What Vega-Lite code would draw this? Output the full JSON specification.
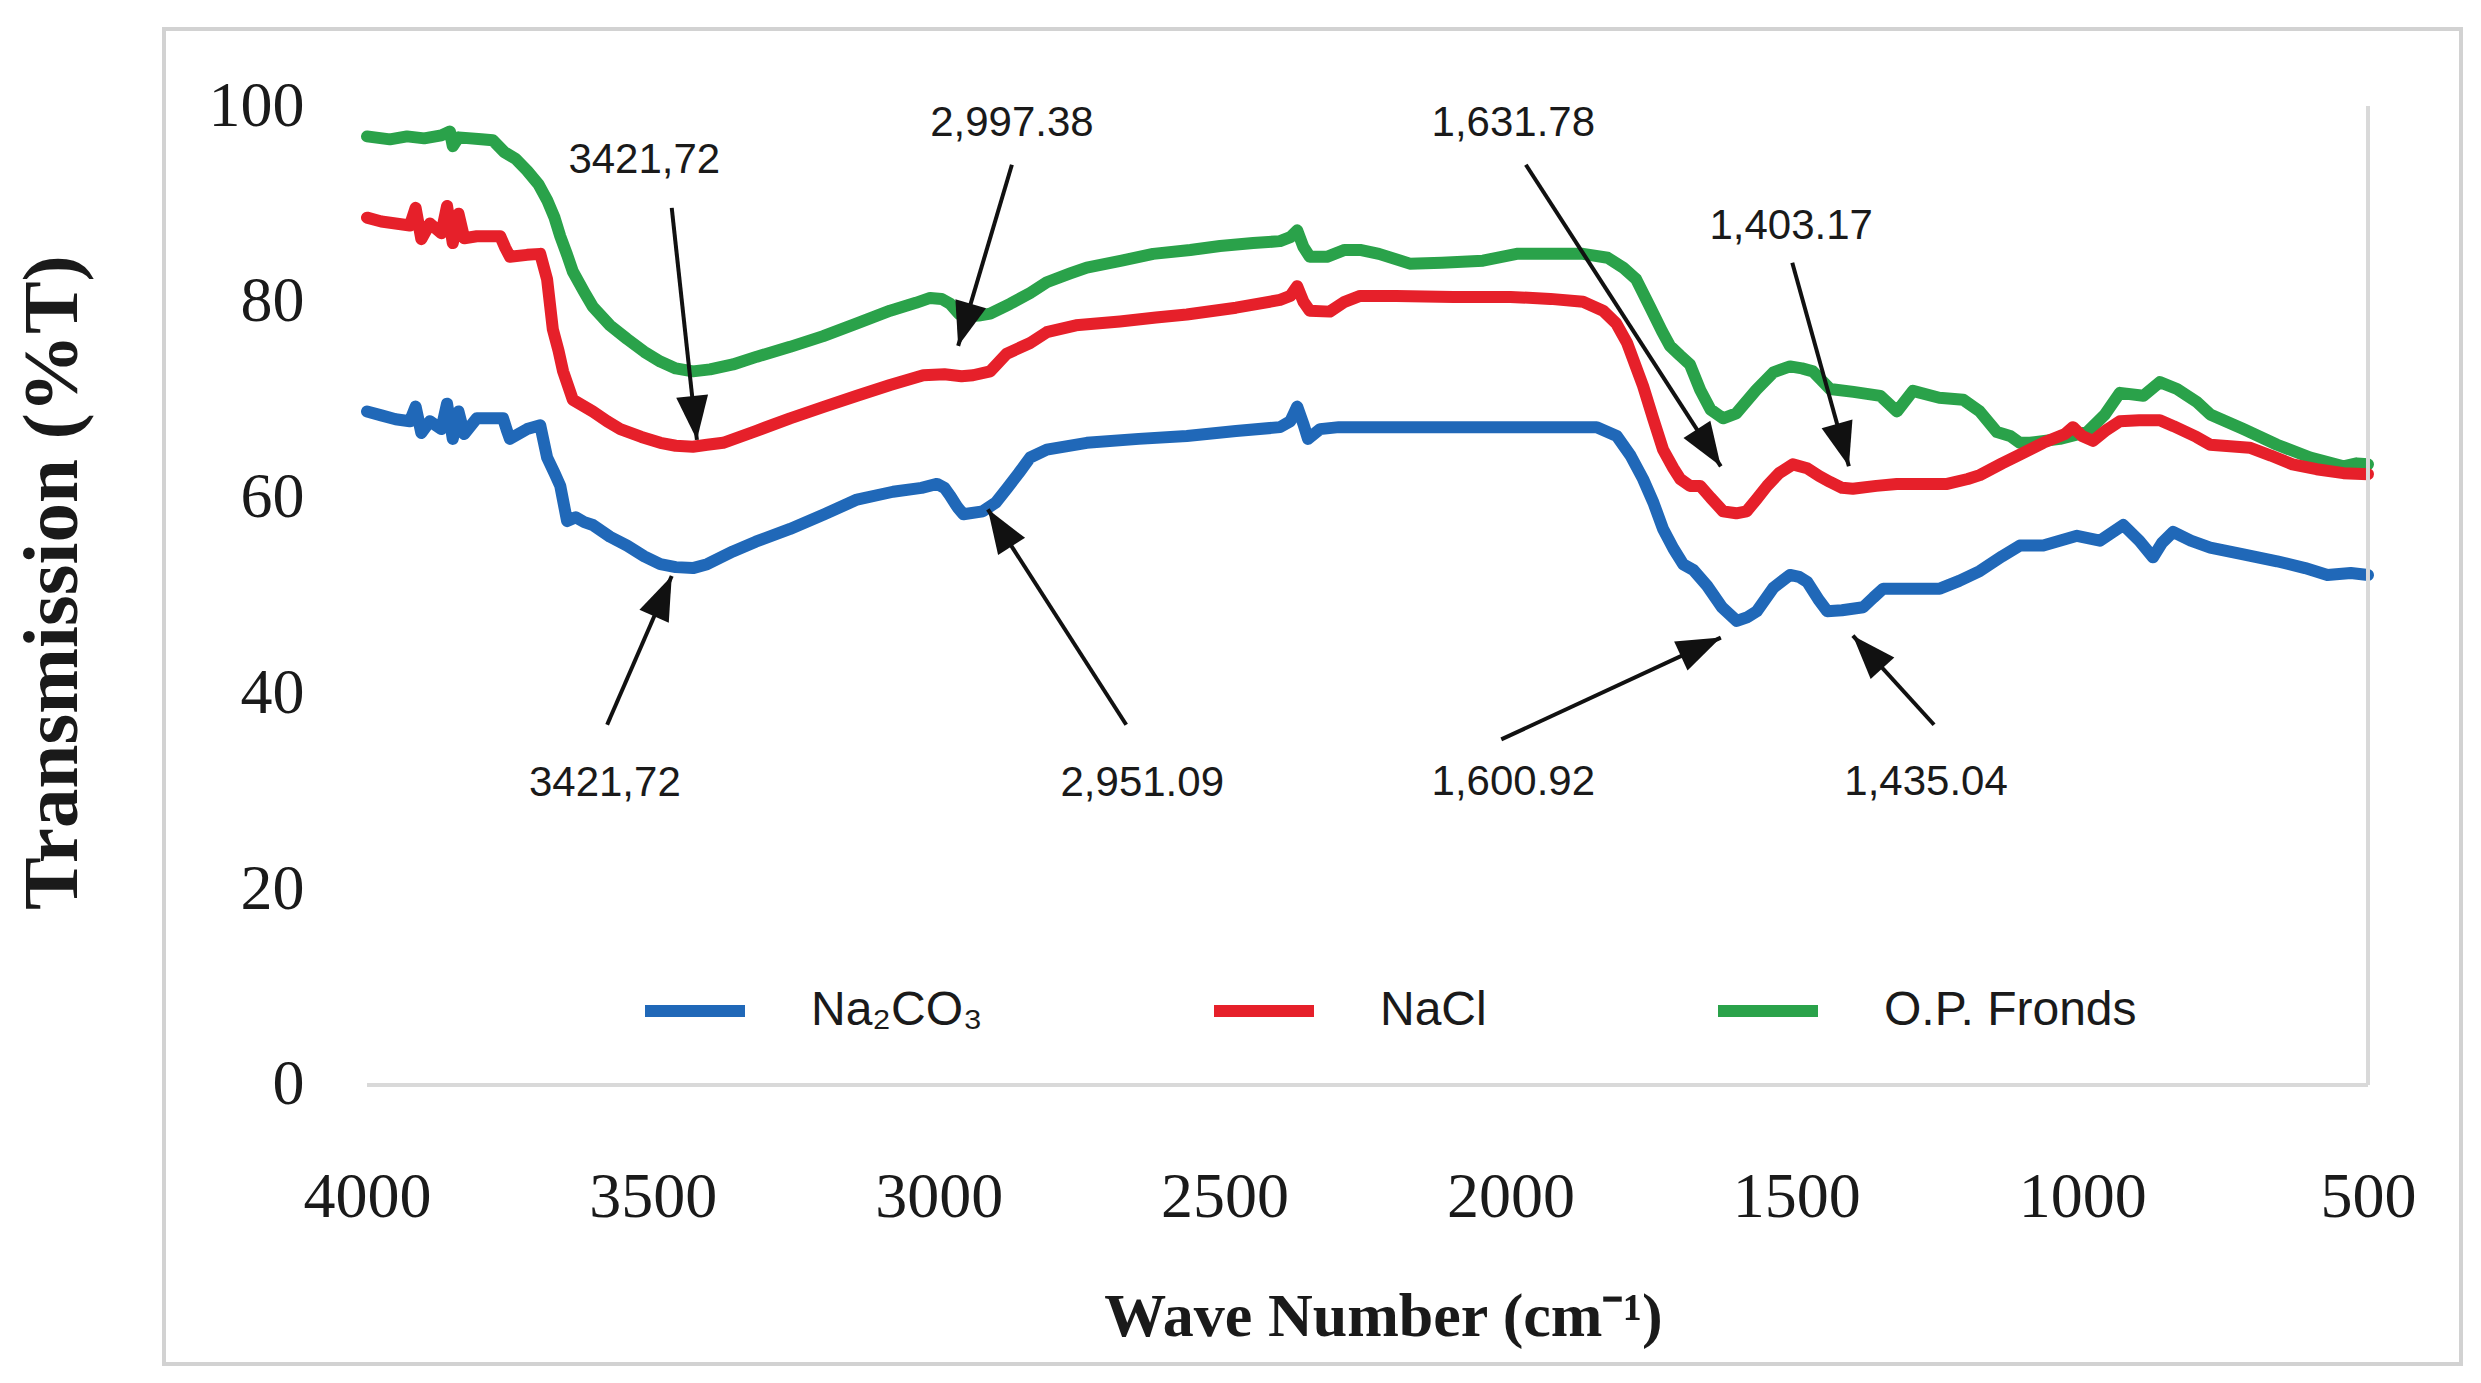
{
 "$schema": "https://vega.github.io/schema/vega-lite/v6.json",
 "width": 2297, "height": 1335,
 "autosize": {"type": "none"},
 "padding": {"left": 164, "top": 29, "right": 20, "bottom": 19},
 "background": "white",
 "config": {"view": {"stroke": "#d2d2d2", "strokeWidth": 4}},
 "datasets": {
  "spectra": [
   {"sample":"O.P. Fronds","wn":4000,"T":96.9},{"sample":"O.P. Fronds","wn":3960,"T":96.6},{"sample":"O.P. Fronds","wn":3930,"T":96.9},{"sample":"O.P. Fronds","wn":3900,"T":96.7},{"sample":"O.P. Fronds","wn":3870,"T":97.0},{"sample":"O.P. Fronds","wn":3855,"T":97.4},{"sample":"O.P. Fronds","wn":3850,"T":95.9},{"sample":"O.P. Fronds","wn":3840,"T":96.8},{"sample":"O.P. Fronds","wn":3800,"T":96.6},{"sample":"O.P. Fronds","wn":3780,"T":96.5},{"sample":"O.P. Fronds","wn":3760,"T":95.3},{"sample":"O.P. Fronds","wn":3740,"T":94.6},{"sample":"O.P. Fronds","wn":3720,"T":93.4},{"sample":"O.P. Fronds","wn":3700,"T":92.0},{"sample":"O.P. Fronds","wn":3685,"T":90.4},{"sample":"O.P. Fronds","wn":3672,"T":88.6},{"sample":"O.P. Fronds","wn":3662,"T":86.7},{"sample":"O.P. Fronds","wn":3650,"T":84.8},{"sample":"O.P. Fronds","wn":3640,"T":83.1},{"sample":"O.P. Fronds","wn":3620,"T":81.0},{"sample":"O.P. Fronds","wn":3605,"T":79.5},{"sample":"O.P. Fronds","wn":3575,"T":77.6},{"sample":"O.P. Fronds","wn":3545,"T":76.2},{"sample":"O.P. Fronds","wn":3515,"T":74.9},{"sample":"O.P. Fronds","wn":3487,"T":73.9},{"sample":"O.P. Fronds","wn":3460,"T":73.2},{"sample":"O.P. Fronds","wn":3430,"T":72.9},{"sample":"O.P. Fronds","wn":3400,"T":73.1},{"sample":"O.P. Fronds","wn":3360,"T":73.6},{"sample":"O.P. Fronds","wn":3318,"T":74.4},{"sample":"O.P. Fronds","wn":3260,"T":75.4},{"sample":"O.P. Fronds","wn":3202,"T":76.5},{"sample":"O.P. Fronds","wn":3143,"T":77.8},{"sample":"O.P. Fronds","wn":3085,"T":79.1},{"sample":"O.P. Fronds","wn":3040,"T":79.9},{"sample":"O.P. Fronds","wn":3015,"T":80.4},{"sample":"O.P. Fronds","wn":2995,"T":80.3},{"sample":"O.P. Fronds","wn":2980,"T":79.8},{"sample":"O.P. Fronds","wn":2965,"T":78.8},{"sample":"O.P. Fronds","wn":2957,"T":78.5},{"sample":"O.P. Fronds","wn":2930,"T":78.6},{"sample":"O.P. Fronds","wn":2910,"T":78.8},{"sample":"O.P. Fronds","wn":2875,"T":79.8},{"sample":"O.P. Fronds","wn":2840,"T":80.9},{"sample":"O.P. Fronds","wn":2811,"T":82.0},{"sample":"O.P. Fronds","wn":2770,"T":82.9},{"sample":"O.P. Fronds","wn":2741,"T":83.5},{"sample":"O.P. Fronds","wn":2680,"T":84.2},{"sample":"O.P. Fronds","wn":2625,"T":84.9},{"sample":"O.P. Fronds","wn":2560,"T":85.3},{"sample":"O.P. Fronds","wn":2508,"T":85.7},{"sample":"O.P. Fronds","wn":2450,"T":86.0},{"sample":"O.P. Fronds","wn":2403,"T":86.2},{"sample":"O.P. Fronds","wn":2385,"T":86.6},{"sample":"O.P. Fronds","wn":2373,"T":87.3},{"sample":"O.P. Fronds","wn":2362,"T":85.6},{"sample":"O.P. Fronds","wn":2351,"T":84.6},{"sample":"O.P. Fronds","wn":2321,"T":84.6},{"sample":"O.P. Fronds","wn":2290,"T":85.3},{"sample":"O.P. Fronds","wn":2263,"T":85.3},{"sample":"O.P. Fronds","wn":2230,"T":84.9},{"sample":"O.P. Fronds","wn":2176,"T":83.9},{"sample":"O.P. Fronds","wn":2120,"T":84.0},{"sample":"O.P. Fronds","wn":2048,"T":84.2},{"sample":"O.P. Fronds","wn":1989,"T":84.9},{"sample":"O.P. Fronds","wn":1930,"T":84.9},{"sample":"O.P. Fronds","wn":1873,"T":84.9},{"sample":"O.P. Fronds","wn":1830,"T":84.5},{"sample":"O.P. Fronds","wn":1803,"T":83.5},{"sample":"O.P. Fronds","wn":1780,"T":82.3},{"sample":"O.P. Fronds","wn":1756,"T":79.5},{"sample":"O.P. Fronds","wn":1735,"T":77.0},{"sample":"O.P. Fronds","wn":1721,"T":75.5},{"sample":"O.P. Fronds","wn":1703,"T":74.5},{"sample":"O.P. Fronds","wn":1686,"T":73.6},{"sample":"O.P. Fronds","wn":1668,"T":71.0},{"sample":"O.P. Fronds","wn":1650,"T":69.0},{"sample":"O.P. Fronds","wn":1628,"T":68.1},{"sample":"O.P. Fronds","wn":1605,"T":68.6},{"sample":"O.P. Fronds","wn":1570,"T":71.0},{"sample":"O.P. Fronds","wn":1540,"T":72.8},{"sample":"O.P. Fronds","wn":1511,"T":73.4},{"sample":"O.P. Fronds","wn":1490,"T":73.2},{"sample":"O.P. Fronds","wn":1471,"T":72.9},{"sample":"O.P. Fronds","wn":1441,"T":71.1},{"sample":"O.P. Fronds","wn":1400,"T":70.8},{"sample":"O.P. Fronds","wn":1353,"T":70.4},{"sample":"O.P. Fronds","wn":1324,"T":68.8},{"sample":"O.P. Fronds","wn":1296,"T":70.9},{"sample":"O.P. Fronds","wn":1250,"T":70.2},{"sample":"O.P. Fronds","wn":1208,"T":70.0},{"sample":"O.P. Fronds","wn":1179,"T":68.8},{"sample":"O.P. Fronds","wn":1149,"T":66.7},{"sample":"O.P. Fronds","wn":1126,"T":66.3},{"sample":"O.P. Fronds","wn":1109,"T":65.6},{"sample":"O.P. Fronds","wn":1091,"T":65.6},{"sample":"O.P. Fronds","wn":1039,"T":66.0},{"sample":"O.P. Fronds","wn":991,"T":66.7},{"sample":"O.P. Fronds","wn":960,"T":68.5},{"sample":"O.P. Fronds","wn":934,"T":70.7},{"sample":"O.P. Fronds","wn":893,"T":70.4},{"sample":"O.P. Fronds","wn":864,"T":71.8},{"sample":"O.P. Fronds","wn":834,"T":71.1},{"sample":"O.P. Fronds","wn":800,"T":69.8},{"sample":"O.P. Fronds","wn":776,"T":68.5},{"sample":"O.P. Fronds","wn":718,"T":67.0},{"sample":"O.P. Fronds","wn":659,"T":65.4},{"sample":"O.P. Fronds","wn":601,"T":64.1},{"sample":"O.P. Fronds","wn":543,"T":63.2},{"sample":"O.P. Fronds","wn":520,"T":63.5},{"sample":"O.P. Fronds","wn":500,"T":63.4},
   {"sample":"NaCl","wn":4000,"T":88.6},{"sample":"NaCl","wn":3975,"T":88.2},{"sample":"NaCl","wn":3950,"T":88.0},{"sample":"NaCl","wn":3925,"T":87.8},{"sample":"NaCl","wn":3915,"T":89.6},{"sample":"NaCl","wn":3905,"T":86.4},{"sample":"NaCl","wn":3890,"T":88.0},{"sample":"NaCl","wn":3870,"T":87.0},{"sample":"NaCl","wn":3860,"T":89.8},{"sample":"NaCl","wn":3850,"T":86.0},{"sample":"NaCl","wn":3840,"T":89.0},{"sample":"NaCl","wn":3830,"T":86.5},{"sample":"NaCl","wn":3808,"T":86.7},{"sample":"NaCl","wn":3767,"T":86.7},{"sample":"NaCl","wn":3758,"T":85.5},{"sample":"NaCl","wn":3750,"T":84.6},{"sample":"NaCl","wn":3720,"T":84.8},{"sample":"NaCl","wn":3697,"T":84.9},{"sample":"NaCl","wn":3685,"T":82.3},{"sample":"NaCl","wn":3675,"T":77.2},{"sample":"NaCl","wn":3665,"T":75.0},{"sample":"NaCl","wn":3657,"T":72.9},{"sample":"NaCl","wn":3640,"T":70.0},{"sample":"NaCl","wn":3605,"T":68.8},{"sample":"NaCl","wn":3580,"T":67.8},{"sample":"NaCl","wn":3557,"T":67.0},{"sample":"NaCl","wn":3520,"T":66.2},{"sample":"NaCl","wn":3487,"T":65.6},{"sample":"NaCl","wn":3460,"T":65.3},{"sample":"NaCl","wn":3430,"T":65.2},{"sample":"NaCl","wn":3405,"T":65.4},{"sample":"NaCl","wn":3377,"T":65.6},{"sample":"NaCl","wn":3320,"T":66.8},{"sample":"NaCl","wn":3260,"T":68.1},{"sample":"NaCl","wn":3200,"T":69.3},{"sample":"NaCl","wn":3143,"T":70.4},{"sample":"NaCl","wn":3085,"T":71.5},{"sample":"NaCl","wn":3027,"T":72.5},{"sample":"NaCl","wn":2990,"T":72.6},{"sample":"NaCl","wn":2960,"T":72.4},{"sample":"NaCl","wn":2940,"T":72.5},{"sample":"NaCl","wn":2910,"T":72.9},{"sample":"NaCl","wn":2881,"T":74.7},{"sample":"NaCl","wn":2840,"T":75.8},{"sample":"NaCl","wn":2811,"T":76.9},{"sample":"NaCl","wn":2760,"T":77.6},{"sample":"NaCl","wn":2683,"T":78.0},{"sample":"NaCl","wn":2620,"T":78.4},{"sample":"NaCl","wn":2566,"T":78.7},{"sample":"NaCl","wn":2480,"T":79.4},{"sample":"NaCl","wn":2403,"T":80.2},{"sample":"NaCl","wn":2385,"T":80.6},{"sample":"NaCl","wn":2373,"T":81.6},{"sample":"NaCl","wn":2362,"T":80.0},{"sample":"NaCl","wn":2351,"T":79.1},{"sample":"NaCl","wn":2316,"T":79.0},{"sample":"NaCl","wn":2290,"T":80.0},{"sample":"NaCl","wn":2263,"T":80.6},{"sample":"NaCl","wn":2200,"T":80.6},{"sample":"NaCl","wn":2100,"T":80.5},{"sample":"NaCl","wn":2000,"T":80.5},{"sample":"NaCl","wn":1930,"T":80.3},{"sample":"NaCl","wn":1873,"T":80.0},{"sample":"NaCl","wn":1838,"T":79.1},{"sample":"NaCl","wn":1815,"T":77.8},{"sample":"NaCl","wn":1796,"T":75.8},{"sample":"NaCl","wn":1768,"T":71.4},{"sample":"NaCl","wn":1750,"T":68.0},{"sample":"NaCl","wn":1733,"T":64.9},{"sample":"NaCl","wn":1715,"T":63.0},{"sample":"NaCl","wn":1703,"T":61.9},{"sample":"NaCl","wn":1686,"T":61.2},{"sample":"NaCl","wn":1668,"T":61.2},{"sample":"NaCl","wn":1650,"T":60.0},{"sample":"NaCl","wn":1628,"T":58.6},{"sample":"NaCl","wn":1605,"T":58.4},{"sample":"NaCl","wn":1587,"T":58.6},{"sample":"NaCl","wn":1570,"T":59.8},{"sample":"NaCl","wn":1551,"T":61.2},{"sample":"NaCl","wn":1530,"T":62.5},{"sample":"NaCl","wn":1506,"T":63.4},{"sample":"NaCl","wn":1481,"T":63.0},{"sample":"NaCl","wn":1460,"T":62.2},{"sample":"NaCl","wn":1441,"T":61.6},{"sample":"NaCl","wn":1420,"T":61.0},{"sample":"NaCl","wn":1401,"T":60.9},{"sample":"NaCl","wn":1360,"T":61.2},{"sample":"NaCl","wn":1324,"T":61.4},{"sample":"NaCl","wn":1280,"T":61.4},{"sample":"NaCl","wn":1236,"T":61.4},{"sample":"NaCl","wn":1200,"T":61.9},{"sample":"NaCl","wn":1179,"T":62.3},{"sample":"NaCl","wn":1140,"T":63.5},{"sample":"NaCl","wn":1109,"T":64.4},{"sample":"NaCl","wn":1068,"T":65.6},{"sample":"NaCl","wn":1030,"T":66.5},{"sample":"NaCl","wn":1016,"T":67.2},{"sample":"NaCl","wn":1000,"T":66.3},{"sample":"NaCl","wn":981,"T":65.8},{"sample":"NaCl","wn":960,"T":66.8},{"sample":"NaCl","wn":934,"T":67.8},{"sample":"NaCl","wn":900,"T":67.9},{"sample":"NaCl","wn":864,"T":67.9},{"sample":"NaCl","wn":840,"T":67.3},{"sample":"NaCl","wn":800,"T":66.2},{"sample":"NaCl","wn":776,"T":65.4},{"sample":"NaCl","wn":707,"T":65.1},{"sample":"NaCl","wn":670,"T":64.3},{"sample":"NaCl","wn":632,"T":63.4},{"sample":"NaCl","wn":590,"T":62.9},{"sample":"NaCl","wn":543,"T":62.5},{"sample":"NaCl","wn":500,"T":62.4},
   {"sample":"Na₂CO₃","wn":4000,"T":68.8},{"sample":"Na₂CO₃","wn":3975,"T":68.4},{"sample":"Na₂CO₃","wn":3950,"T":68.0},{"sample":"Na₂CO₃","wn":3925,"T":67.8},{"sample":"Na₂CO₃","wn":3915,"T":69.3},{"sample":"Na₂CO₃","wn":3905,"T":66.6},{"sample":"Na₂CO₃","wn":3890,"T":67.8},{"sample":"Na₂CO₃","wn":3870,"T":67.0},{"sample":"Na₂CO₃","wn":3860,"T":69.6},{"sample":"Na₂CO₃","wn":3850,"T":66.0},{"sample":"Na₂CO₃","wn":3840,"T":68.8},{"sample":"Na₂CO₃","wn":3830,"T":66.5},{"sample":"Na₂CO₃","wn":3808,"T":68.1},{"sample":"Na₂CO₃","wn":3762,"T":68.1},{"sample":"Na₂CO₃","wn":3755,"T":66.8},{"sample":"Na₂CO₃","wn":3750,"T":66.0},{"sample":"Na₂CO₃","wn":3720,"T":67.0},{"sample":"Na₂CO₃","wn":3697,"T":67.4},{"sample":"Na₂CO₃","wn":3685,"T":64.1},{"sample":"Na₂CO₃","wn":3672,"T":62.5},{"sample":"Na₂CO₃","wn":3662,"T":61.2},{"sample":"Na₂CO₃","wn":3650,"T":57.6},{"sample":"Na₂CO₃","wn":3635,"T":58.0},{"sample":"Na₂CO₃","wn":3620,"T":57.5},{"sample":"Na₂CO₃","wn":3605,"T":57.2},{"sample":"Na₂CO₃","wn":3575,"T":56.0},{"sample":"Na₂CO₃","wn":3545,"T":55.1},{"sample":"Na₂CO₃","wn":3515,"T":54.0},{"sample":"Na₂CO₃","wn":3487,"T":53.2},{"sample":"Na₂CO₃","wn":3460,"T":52.9},{"sample":"Na₂CO₃","wn":3430,"T":52.8},{"sample":"Na₂CO₃","wn":3405,"T":53.2},{"sample":"Na₂CO₃","wn":3360,"T":54.5},{"sample":"Na₂CO₃","wn":3320,"T":55.5},{"sample":"Na₂CO₃","wn":3260,"T":56.8},{"sample":"Na₂CO₃","wn":3200,"T":58.3},{"sample":"Na₂CO₃","wn":3143,"T":59.8},{"sample":"Na₂CO₃","wn":3080,"T":60.6},{"sample":"Na₂CO₃","wn":3030,"T":61.0},{"sample":"Na₂CO₃","wn":3003,"T":61.4},{"sample":"Na₂CO₃","wn":2990,"T":61.0},{"sample":"Na₂CO₃","wn":2980,"T":60.2},{"sample":"Na₂CO₃","wn":2967,"T":59.0},{"sample":"Na₂CO₃","wn":2957,"T":58.3},{"sample":"Na₂CO₃","wn":2923,"T":58.6},{"sample":"Na₂CO₃","wn":2900,"T":59.5},{"sample":"Na₂CO₃","wn":2881,"T":60.9},{"sample":"Na₂CO₃","wn":2860,"T":62.5},{"sample":"Na₂CO₃","wn":2840,"T":64.1},{"sample":"Na₂CO₃","wn":2811,"T":64.9},{"sample":"Na₂CO₃","wn":2741,"T":65.6},{"sample":"Na₂CO₃","wn":2650,"T":66.0},{"sample":"Na₂CO₃","wn":2566,"T":66.3},{"sample":"Na₂CO₃","wn":2480,"T":66.8},{"sample":"Na₂CO₃","wn":2403,"T":67.2},{"sample":"Na₂CO₃","wn":2385,"T":67.8},{"sample":"Na₂CO₃","wn":2373,"T":69.3},{"sample":"Na₂CO₃","wn":2362,"T":67.5},{"sample":"Na₂CO₃","wn":2354,"T":66.0},{"sample":"Na₂CO₃","wn":2333,"T":67.0},{"sample":"Na₂CO₃","wn":2300,"T":67.2},{"sample":"Na₂CO₃","wn":2263,"T":67.2},{"sample":"Na₂CO₃","wn":2150,"T":67.2},{"sample":"Na₂CO₃","wn":2050,"T":67.2},{"sample":"Na₂CO₃","wn":1950,"T":67.2},{"sample":"Na₂CO₃","wn":1849,"T":67.2},{"sample":"Na₂CO₃","wn":1814,"T":66.3},{"sample":"Na₂CO₃","wn":1790,"T":64.3},{"sample":"Na₂CO₃","wn":1768,"T":61.9},{"sample":"Na₂CO₃","wn":1750,"T":59.5},{"sample":"Na₂CO₃","wn":1733,"T":56.8},{"sample":"Na₂CO₃","wn":1715,"T":54.8},{"sample":"Na₂CO₃","wn":1698,"T":53.2},{"sample":"Na₂CO₃","wn":1680,"T":52.6},{"sample":"Na₂CO₃","wn":1656,"T":51.0},{"sample":"Na₂CO₃","wn":1630,"T":48.8},{"sample":"Na₂CO₃","wn":1604,"T":47.4},{"sample":"Na₂CO₃","wn":1585,"T":47.8},{"sample":"Na₂CO₃","wn":1569,"T":48.4},{"sample":"Na₂CO₃","wn":1540,"T":50.8},{"sample":"Na₂CO₃","wn":1511,"T":52.1},{"sample":"Na₂CO₃","wn":1495,"T":51.9},{"sample":"Na₂CO₃","wn":1481,"T":51.4},{"sample":"Na₂CO₃","wn":1460,"T":49.5},{"sample":"Na₂CO₃","wn":1446,"T":48.4},{"sample":"Na₂CO₃","wn":1420,"T":48.5},{"sample":"Na₂CO₃","wn":1383,"T":48.8},{"sample":"Na₂CO₃","wn":1365,"T":49.8},{"sample":"Na₂CO₃","wn":1348,"T":50.7},{"sample":"Na₂CO₃","wn":1300,"T":50.7},{"sample":"Na₂CO₃","wn":1249,"T":50.7},{"sample":"Na₂CO₃","wn":1215,"T":51.5},{"sample":"Na₂CO₃","wn":1179,"T":52.5},{"sample":"Na₂CO₃","wn":1140,"T":54.0},{"sample":"Na₂CO₃","wn":1109,"T":55.1},{"sample":"Na₂CO₃","wn":1068,"T":55.1},{"sample":"Na₂CO₃","wn":1009,"T":56.1},{"sample":"Na₂CO₃","wn":969,"T":55.6},{"sample":"Na₂CO₃","wn":928,"T":57.2},{"sample":"Na₂CO₃","wn":900,"T":55.6},{"sample":"Na₂CO₃","wn":876,"T":53.9},{"sample":"Na₂CO₃","wn":860,"T":55.4},{"sample":"Na₂CO₃","wn":841,"T":56.5},{"sample":"Na₂CO₃","wn":810,"T":55.6},{"sample":"Na₂CO₃","wn":776,"T":54.9},{"sample":"Na₂CO₃","wn":718,"T":54.2},{"sample":"Na₂CO₃","wn":659,"T":53.5},{"sample":"Na₂CO₃","wn":610,"T":52.8},{"sample":"Na₂CO₃","wn":571,"T":52.1},{"sample":"Na₂CO₃","wn":530,"T":52.3},{"sample":"Na₂CO₃","wn":500,"T":52.1}
  ],
  "notes": [
   {"label":"3421,72","tx":3515,"ty":94.5,"x1":3467,"y1":89.6,"x2":3423,"y2":65.9,"angle":173.8},
   {"label":"2,997.38","tx":2872,"ty":98.3,"x1":2872,"y1":94.0,"x2":2966,"y2":75.5,"angle":196.6},
   {"label":"1,631.78","tx":1995,"ty":98.3,"x1":1973,"y1":94.0,"x2":1632,"y2":63.2,"angle":147.1},
   {"label":"1,403.17","tx":1509,"ty":87.7,"x1":1507,"y1":84.0,"x2":1408,"y2":63.2,"angle":164.4},
   {"label":"3421,72","tx":3584,"ty":30.8,"x1":3580,"y1":36.8,"x2":3467,"y2":52.0,"angle":23.6},
   {"label":"2,951.09","tx":2644,"ty":30.8,"x1":2672,"y1":36.8,"x2":2914,"y2":58.8,"angle":327.4},
   {"label":"1,600.92","tx":1995,"ty":31.0,"x1":2016,"y1":35.3,"x2":1632,"y2":45.7,"angle":65.3},
   {"label":"1,435.04","tx":1273,"ty":31.0,"x1":1259,"y1":36.8,"x2":1401,"y2":45.9,"angle":317.7}
  ]
 },
 "layer": [
  {
   "data": {"name": "spectra"},
   "mark": {"type": "line", "strokeWidth": 12, "strokeJoin": "round", "strokeCap": "round"},
   "encoding": {
    "x": {"field": "wn", "type": "quantitative",
     "scale": {"domain": [337.3, 4355.1], "reverse": true, "nice": false, "zero": false},
     "axis": {"values": [4000, 3500, 3000, 2500, 2000, 1500, 1000, 500], "format": "d", "offset": -167,
      "domain": false, "ticks": false, "grid": false, "labelPadding": 0, "labelBaseline": "middle", "labelFlush": false,
      "labelFont": "Liberation Serif", "labelFontSize": 64, "labelColor": "#1a1a1a",
      "title": "Wave Number (cm⁻¹)", "titleFont": "Liberation Serif", "titleFontSize": 62, "titleFontWeight": "bold", "titleColor": "#1a1a1a",
      "titleX": 1219, "titleY": 119, "titleAlign": "center", "titleBaseline": "middle", "titleAngle": 0}},
    "y": {"field": "T", "type": "quantitative",
     "scale": {"domain": [-28.5, 107.87], "nice": false, "zero": false},
     "axis": {"values": [0, 20, 40, 60, 80, 100], "offset": -140,
      "domain": false, "ticks": false, "grid": false, "labelPadding": 0, "labelFlush": false,
      "labelFont": "Liberation Serif", "labelFontSize": 64, "labelColor": "#1a1a1a",
      "title": "Transmission (%T)", "titleFont": "Liberation Serif", "titleFontSize": 79, "titleFontWeight": "bold", "titleColor": "#1a1a1a",
      "titleX": -252, "titleY": 553, "titleAlign": "center", "titleBaseline": "middle", "titleAngle": 270}},
    "color": {"field": "sample", "type": "nominal",
     "scale": {"domain": ["Na₂CO₃", "NaCl", "O.P. Fronds"], "range": ["#2068b8", "#e6202a", "#2aa24a"]},
     "legend": {"orient": "none", "legendX": 475, "legendY": 926, "direction": "horizontal", "title": null,
      "symbolType": "stroke", "symbolSize": 10000, "symbolStrokeWidth": 12, "labelFont": "Liberation Sans", "labelFontSize": 48, "labelColor": "#1a1a1a",
      "labelOffset": 60, "columnPadding": 207, "padding": 0, "gridAlign": "each", "labelLimit": 0}}
   }
  },
  {
   "data": {"values": [{}]},
   "mark": {"type": "rule", "color": "#d9d9d9", "strokeWidth": 4},
   "encoding": {
    "x": {"datum": 4000, "type": "quantitative"},
    "x2": {"datum": 500},
    "y": {"datum": 0, "type": "quantitative"}
   }
  },
  {
   "data": {"values": [{}]},
   "mark": {"type": "rule", "color": "#d9d9d9", "strokeWidth": 4},
   "encoding": {
    "x": {"datum": 500, "type": "quantitative"},
    "y": {"datum": 0, "type": "quantitative"},
    "y2": {"datum": 100}
   }
  },
  {
   "data": {"name": "notes"},
   "mark": {"type": "rule", "color": "#111111", "strokeWidth": 4},
   "encoding": {
    "x": {"field": "x1", "type": "quantitative"},
    "y": {"field": "y1", "type": "quantitative"},
    "x2": {"field": "x2"},
    "y2": {"field": "y2"}
   }
  },
  {
   "data": {"name": "notes"},
   "mark": {"type": "point", "shape": "M0,0L-0.8,2.2L0.8,2.2Z", "filled": true, "size": 1600, "color": "#111111", "opacity": 1},
   "encoding": {
    "x": {"field": "x2", "type": "quantitative"},
    "y": {"field": "y2", "type": "quantitative"},
    "angle": {"field": "angle", "type": "quantitative", "scale": null}
   }
  },
  {
   "data": {"name": "notes"},
   "mark": {"type": "text", "font": "Liberation Sans", "fontSize": 42, "color": "#1a1a1a", "align": "center", "baseline": "middle"},
   "encoding": {
    "x": {"field": "tx", "type": "quantitative"},
    "y": {"field": "ty", "type": "quantitative"},
    "text": {"field": "label", "type": "nominal"}
   }
  }
 ]
}
